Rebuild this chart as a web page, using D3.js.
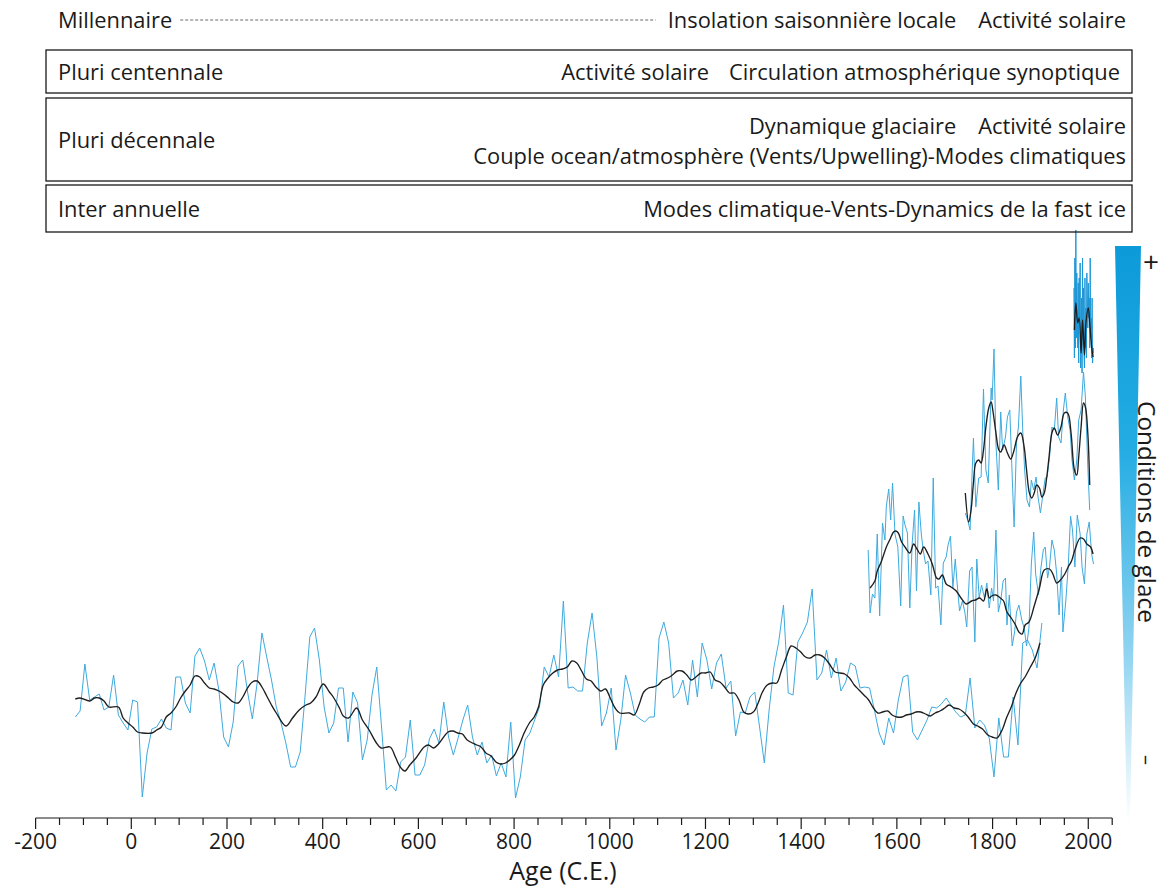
<!DOCTYPE html>
<html><head><meta charset="utf-8">
<script src="https://cdn.jsdelivr.net/npm/d3@7"></script>
<style>
body{margin:0;background:#fff}
svg{display:block}
text{font-family:"Open Sans","Noto Sans",sans-serif;fill:#1a1a1a}
</style>
</head><body><svg id="c" width="1164" height="890"></svg>
<script>
// ---------------- DATA ----------------
const timescaleLabels = ["Millennaire", "Pluri centennale", "Pluri décennale", "Inter annuelle"];
const forcingMillennial = ["Insolation saisonnière locale", "Activité solaire"];
const forcingCentennial = ["Activité solaire", "Circulation atmosphérique synoptique"];
const forcingDecadalA = ["Dynamique glaciaire", "Activité solaire"];
const forcingDecadalB = ["Couple ocean/atmosphère (Vents/Upwelling)-Modes climatiques"];
const forcingAnnual = ["Modes climatique-Vents-Dynamics de la fast ice"];
const axisTitle = "Age (C.E.)";
const sideTitle = "Conditions de glace";
const sideTop = "+", sideBottom = "–";
const majorTicks = [-200, 0, 200, 400, 600, 800, 1000, 1200, 1400, 1600, 1800, 2000];
const minorTicks = [-150, -100, -50, 50, 100, 150, 250, 300, 350, 450, 500, 550, 650, 700, 750, 850, 900, 950,
  1050, 1100, 1150, 1250, 1300, 1350, 1450, 1500, 1550, 1650, 1700, 1750, 1850, 1900, 1950, 2050];

// Record 1 (decadal, -117 .. ~1900), relative ice-condition index
const rec1Start = -117, rec1Step = 10;
const rec1Raw = [101,107,154,118,121,124,108,111,143,103,95,88,118,116,21,65,89,91,99,90,88,141,141,115,105,162,170,157,138,155,
  128,81,71,96,152,158,126,99,135,185,161,138,111,95,75,51,51,66,121,181,190,158,111,85,95,130,130,76,126,115,
  58,78,123,151,91,28,33,27,56,61,98,43,43,53,79,89,75,116,81,63,80,98,113,81,63,76,55,63,42,55,
  41,96,20,41,78,85,98,111,151,141,163,141,217,130,131,127,127,175,205,161,92,105,130,68,98,143,125,103,99,96,
  101,101,180,196,175,120,125,138,113,158,121,175,158,129,155,164,130,137,82,106,105,121,126,91,55,108,151,176,213,125,
  123,176,185,196,229,138,145,168,140,160,127,136,155,152,130,131,130,108,85,73,100,85,118,141,143,86,78,88,98,111,
  110,114,120,113,106,101,103,140,90,98,93,80,41,100,61,61,121,73,175,178,168,150,195];
const rec1Smooth = [[-117,119],[-107,120],[-87,117],[-77,120],[-67,120],[-57,117],[-47,111],[-27,111],[-17,100],[-7,95],[3,91],[13,86],[23,85],[43,85],[53,88],[63,91],[73,101],[83,105],[93,111],[103,120],[113,127],[123,133],[133,142],[143,141],[153,135],[163,130],[173,129],[183,127],[193,124],[203,120],[213,116],[223,115],[233,121],[243,130],[253,136],[263,137],[273,131],[283,122],[293,113],[303,105],[323,92],[337,100],[351,108],[365,113],[375,115],[386,121],[401,134],[414,126],[422,121],[435,110],[443,102],[454,100],[471,110],[483,98],[497,88],[511,76],[522,70],[541,71],[552,61],[562,51],[572,47],[582,53],[595,60],[612,71],[621,73],[632,70],[642,74],[662,86],[672,87],[682,85],[692,84],[702,78],[722,73],[731,71],[741,65],[752,62],[762,56],[772,54],[782,55],[791,58],[801,63],[811,73],[821,85],[832,95],[842,101],[851,111],[861,133],[871,140],[881,145],[891,148],[901,149],[911,151],[921,157],[931,155],[940,148],[951,139],[961,137],[971,131],[981,127],[991,129],[1000,121],[1011,110],[1021,105],[1041,105],[1051,103],[1061,113],[1071,126],[1081,130],[1091,131],[1101,133],[1111,138],[1121,140],[1131,143],[1141,147],[1151,147],[1161,143],[1170,138],[1180,141],[1191,145],[1200,145],[1210,146],[1220,138],[1230,136],[1240,131],[1250,125],[1260,125],[1270,118],[1280,106],[1289,104],[1300,106],[1310,115],[1319,126],[1329,133],[1340,135],[1349,135],[1359,148],[1369,161],[1379,172],[1389,170],[1399,166],[1409,161],[1419,160],[1429,163],[1439,163],[1449,160],[1459,154],[1471,146],[1481,145],[1491,144],[1501,140],[1511,133],[1521,128],[1531,123],[1541,118],[1551,110],[1560,105],[1570,106],[1581,107],[1590,103],[1600,101],[1611,101],[1620,103],[1630,104],[1640,106],[1650,106],[1660,104],[1670,102],[1680,105],[1690,107],[1700,110],[1709,113],[1720,110],[1730,109],[1739,106],[1749,101],[1760,94],[1769,92],[1779,89],[1790,83],[1799,81],[1809,80],[1820,88],[1829,100],[1839,111],[1849,125],[1859,135],[1869,142],[1879,151],[1889,160],[1899,175]];

// Record 2 (1540 .. 2011)
const rec2Raw = [[1540,268],[1544,205],[1549,224],[1554,220],[1559,284],[1564,202],[1570,295],[1575,278],[1578,312],[1583,329],[1587,298],[1591,335],[1596,284],[1602,271],[1608,212],[1613,302],[1617,293],[1622,285],[1627,210],[1632,275],[1637,308],[1641,227],[1646,316],[1651,284],[1655,268],[1660,254],[1665,257],[1671,223],[1676,340],[1681,230],[1686,232],[1692,193],[1697,255],[1703,261],[1707,273],[1712,282],[1717,230],[1722,259],[1726,234],[1731,207],[1737,217],[1742,206],[1746,191],[1752,247],[1757,251],[1763,176],[1767,259],[1772,220],[1777,233],[1783,220],[1788,235],[1793,210],[1798,230],[1802,217],[1807,288],[1812,206],[1817,217],[1822,237],[1827,240],[1830,193],[1835,223],[1841,172],[1846,186],[1850,206],[1855,213],[1861,198],[1866,190],[1871,172],[1876,190],[1881,254],[1886,286],[1890,244],[1896,223],[1901,250],[1906,268],[1910,271],[1915,240],[1919,251],[1924,278],[1929,268],[1934,244],[1939,203],[1944,251],[1947,186],[1953,217],[1958,251],[1963,302],[1967,288],[1972,251],[1977,303],[1983,284],[1987,251],[1992,234],[1997,284],[2002,296],[2007,264],[2011,254]];
const rec2Smooth = [[1544,230],[1554,237],[1559,247],[1568,257],[1578,271],[1586,279],[1593,286],[1598,287],[1603,285],[1610,276],[1617,271],[1627,265],[1635,274],[1642,269],[1649,264],[1656,271],[1665,264],[1674,254],[1683,240],[1688,239],[1695,243],[1703,234],[1713,231],[1724,227],[1734,220],[1745,214],[1756,217],[1764,218],[1773,220],[1781,217],[1788,229],[1793,220],[1798,222],[1807,223],[1816,220],[1823,217],[1830,206],[1839,200],[1848,193],[1855,186],[1862,184],[1868,193],[1876,196],[1887,212],[1898,230],[1908,248],[1919,249],[1926,244],[1934,235],[1940,237],[1951,244],[1958,251],[1965,257],[1972,268],[1983,280],[1990,279],[1997,274],[2005,271],[2010,264]];

// Record 3 (1743 .. 2003)
const rec3Raw = [[1743,305],[1748,298],[1753,288],[1758,355],[1760,380],[1765,311],[1771,340],[1776,341],[1781,429],[1786,348],[1791,335],[1797,430],[1799,418],[1803,469],[1807,375],[1812,328],[1817,406],[1821,368],[1827,381],[1831,401],[1836,408],[1840,355],[1845,291],[1850,375],[1854,391],[1859,442],[1863,388],[1867,348],[1872,318],[1877,311],[1881,338],[1886,328],[1891,341],[1895,321],[1900,305],[1905,323],[1910,340],[1914,341],[1919,361],[1924,391],[1929,388],[1934,420],[1938,381],[1943,375],[1948,408],[1952,425],[1957,401],[1962,388],[1966,358],[1971,338],[1976,358],[1980,398],[1985,408],[1990,446],[1994,421],[1999,351],[2003,308]];
const rec3Smooth = [[1743,325],[1750,296],[1755,308],[1760,335],[1765,355],[1771,358],[1776,355],[1781,368],[1786,391],[1792,410],[1797,416],[1801,406],[1807,385],[1813,368],[1817,366],[1824,373],[1831,365],[1838,359],[1845,368],[1852,381],[1859,385],[1866,371],[1871,348],[1877,325],[1882,320],[1887,325],[1892,333],[1898,330],[1903,321],[1908,325],[1913,340],[1918,361],[1924,385],[1929,390],[1936,383],[1943,391],[1950,405],[1957,405],[1964,385],[1971,348],[1976,343],[1980,361],[1985,391],[1990,415],[1994,411],[1999,385],[2003,333]];

// Record 4 (annual, 1970 .. 2011)
const rec4Start = 1970;
const rec4Raw = [530,460,560,470,588,480,545,500,470,535,455,540,500,555,450,470,520,445,560,480,530,465,450,540,470,510,460,545,520,490,535,500,520,470,560,480,500,460,520,455,470,465];
const rec4Smooth = [[1971,488],[1974,515],[1978,495],[1981,500],[1985,465],[1988,498],[1992,463],[1995,495],[2000,510],[2003,495],[2007,471],[2010,461]];

// ---------------- DRAW ----------------
const svg = d3.select("#c");
const x = d3.scaleLinear().domain([-200, 2050]).range([35.6, 1112.2]);
const y = d3.scaleLinear().domain([0, 600]).range([818, 218]);

const blue = "#3eaade", dark = "#1e1e1e";
const rawLine = d3.line().x(d => x(d[0])).y(d => y(d[1]));
const smoothLine = d3.line().x(d => x(d[0])).y(d => y(d[1])).curve(d3.curveCatmullRom);

const rec1Pts = rec1Raw.map((v, i) => [rec1Start + i * rec1Step, v]);
const rec4Pts = rec4Raw.map((v, i) => [rec4Start + i, v]);

const plotG = svg.append("g");
function drawRaw(pts, color, w) {
  plotG.append("path").attr("d", rawLine(pts)).attr("fill", "none").attr("stroke", color)
    .attr("stroke-width", w);
}
function drawSmooth(pts) {
  plotG.append("path").attr("d", smoothLine(pts)).attr("fill", "none")
    .attr("stroke", dark).attr("stroke-width", 1.35);
}
drawRaw(rec1Pts, blue, 1);
drawSmooth(rec1Smooth);
drawRaw(rec2Raw, blue, 1);
drawSmooth(rec2Smooth);
drawRaw(rec3Raw, blue, 1);
drawSmooth(rec3Smooth);
drawRaw(rec4Pts, "#1c96d6", 1);
drawSmooth(rec4Smooth);

// axis
const ax = svg.append("g");
ax.append("line").attr("x1", x(-200)).attr("x2", x(2050)).attr("y1", 818).attr("y2", 818)
  .attr("stroke", "#1a1a1a").attr("stroke-width", 1.2);
ax.selectAll(".maj").data(majorTicks).join("line")
  .attr("x1", d => x(d)).attr("x2", d => x(d)).attr("y1", 818).attr("y2", 829)
  .attr("stroke", "#1a1a1a").attr("stroke-width", 1.2);
ax.selectAll(".min").data(minorTicks).join("line")
  .attr("x1", d => x(d)).attr("x2", d => x(d)).attr("y1", 818).attr("y2", 825)
  .attr("stroke", "#1a1a1a").attr("stroke-width", 1.2);
ax.selectAll(".lab").data(majorTicks).join("text")
  .attr("x", d => x(d)).attr("y", 849).attr("text-anchor", "middle")
  .style("font-size", "21px").text(d => String(d));
ax.append("text").attr("x", 563).attr("y", 880).attr("text-anchor", "middle")
  .style("font-size", "25px").text(axisTitle);

// top panel
const topG = svg.append("g");
const boxes = [[50, 93], [98, 181], [185, 232]];
boxes.forEach(b => topG.append("rect").attr("x", 46).attr("y", b[0]).attr("width", 1086)
  .attr("height", b[1] - b[0]).attr("fill", "none").attr("stroke", "#1a1a1a").attr("stroke-width", 1.3));

const probe = topG.append("text").style("font-size", "20px").text(forcingDecadalB[0]);
const FS = 20 * 653 / probe.node().getComputedTextLength();
probe.remove();

function T(txt, xx, cy, anchor) {
  return topG.append("text").attr("x", xx).attr("y", cy + FS * 0.36).attr("text-anchor", anchor || "start")
    .style("font-size", FS + "px").text(txt);
}
function rightGroup(items, right, cy, gap) {
  let xr = right;
  for (let i = items.length - 1; i >= 0; i--) {
    const t = T(items[i], xr, cy, "end");
    xr -= t.node().getComputedTextLength() + gap;
  }
  return xr + gap;
}
const mil = T(timescaleLabels[0], 58, 20);
const milEnd = 58 + mil.node().getComputedTextLength();
const insStart = rightGroup(forcingMillennial, 1126, 20, 22);
topG.append("line").attr("x1", milEnd + 8).attr("x2", insStart - 12).attr("y1", 20).attr("y2", 20)
  .attr("stroke", "#444").attr("stroke-width", 0.8).attr("stroke-dasharray", "3,2");
T(timescaleLabels[1], 58, 72);
rightGroup(forcingCentennial, 1120, 72, 20);
T(timescaleLabels[2], 58, 140);
rightGroup(forcingDecadalA, 1126, 126, 22);
rightGroup(forcingDecadalB, 1126, 156, 22);
T(timescaleLabels[3], 58, 209);
rightGroup(forcingAnnual, 1126, 209, 22);

// side wedge
const defs = svg.append("defs");
const gr = defs.append("linearGradient").attr("id", "wg").attr("x1", 0).attr("y1", 0).attr("x2", 0).attr("y2", 1);
gr.append("stop").attr("offset", "0%").attr("stop-color", "#0d9ad9");
gr.append("stop").attr("offset", "35%").attr("stop-color", "#23ace3");
gr.append("stop").attr("offset", "70%").attr("stop-color", "#8ed3f1");
gr.append("stop").attr("offset", "100%").attr("stop-color", "#ffffff");
svg.append("polygon").attr("points", "1115,246 1141,246 1130,822 1127,822").attr("fill", "url(#wg)");
svg.append("text").attr("x", 1151).attr("y", 272).attr("text-anchor", "middle").style("font-size", "28px").text(sideTop);
const st = svg.append("text").attr("transform", "translate(1138,512) rotate(90)").attr("text-anchor", "middle")
  .style("font-size", "22px").text(sideTitle);
const sl = st.node().getComputedTextLength();
st.style("font-size", (22 * 222 / sl) + "px");
svg.append("text").attr("transform", "translate(1140,760) rotate(90)").attr("text-anchor", "middle")
  .style("font-size", "20px").text(sideBottom);
</script>
</body></html>
